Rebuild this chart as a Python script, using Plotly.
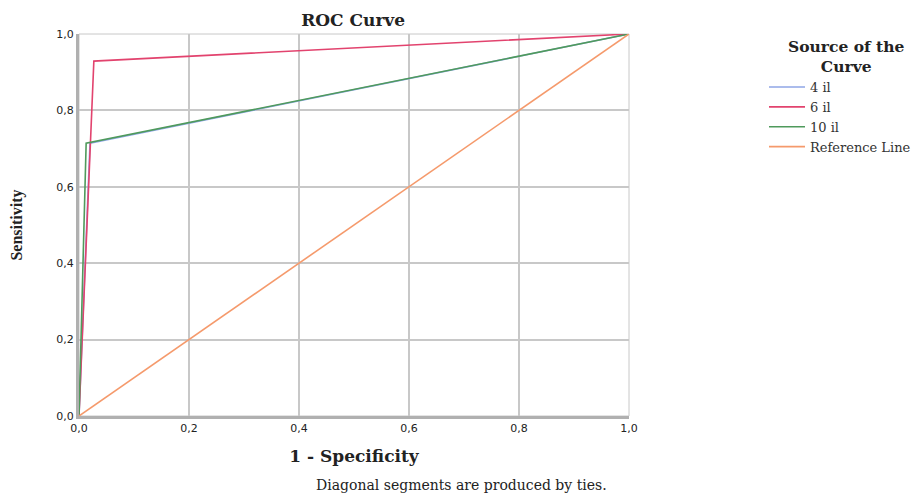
import plotly.graph_objects as go

series_names = ["4 il", "6 il", "10 il", "Reference Line"]
x_4il = [0.0, 0.02, 1.0]
y_4il = [0.0, 0.714, 1.0]
x_6il = [0.0, 0.027, 1.0]
y_6il = [0.0, 0.929, 1.0]
x_10il = [0.0, 0.013, 1.0]
y_10il = [0.0, 0.714, 1.0]
x_ref = [0.0, 1.0]
y_ref = [0.0, 1.0]
tick_vals = [0.0, 0.2, 0.4, 0.6, 0.8, 1.0]
tick_text = ["0,0", "0,2", "0,4", "0,6", "0,8", "1,0"]

colors = ["#8fa6e6", "#e2436e", "#4f9a5c", "#f59a6c"]

fig = go.Figure()
for xs, ys, name, c in zip([x_4il, x_6il, x_10il, x_ref], [y_4il, y_6il, y_10il, y_ref], series_names, colors):
    fig.add_trace(go.Scatter(x=xs, y=ys, mode="lines", name=name,
                             line=dict(color=c, width=1.6)))

serif = "DejaVu Serif, serif"
tserif = "Liberation Serif, Times New Roman, serif"
L, R, T, B = 79, 294, 34, 77
fig.update_layout(
    width=923, height=493,
    margin=dict(l=L, r=R, t=T, b=B, autoexpand=False),
    paper_bgcolor="white", plot_bgcolor="white",
    title=dict(text="<b>ROC Curve</b>", x=460/923, xref="paper", xanchor="center",
               y=1 - 20/493, yanchor="middle", font=dict(family=serif, size=17, color="#222")),
    legend=dict(x=(764-L)/550, xanchor="left", y=(416-72)/382, yanchor="top",
                font=dict(family=serif, size=13, color="#333"),
                itemwidth=36, tracegroupgap=0, bgcolor="rgba(0,0,0,0)"),
    showlegend=True,
)
fig.update_xaxes(range=[0, 1], tickvals=tick_vals, ticktext=tick_text, automargin=False,
                 showgrid=True, gridcolor="#c8c8c8", gridwidth=2,
                 showline=True, linecolor="#b0b0b0", linewidth=3, mirror=False,
                 zeroline=False, ticks="", tickfont=dict(family="DejaVu Sans", size=11, color="#222"),
                 title=dict(text="<b>1 - Specificity</b>", font=dict(family=serif, size=17, color="#222"), standoff=16))
fig.update_yaxes(range=[0, 1], tickvals=tick_vals, ticktext=tick_text, automargin=False,
                 showgrid=True, gridcolor="#c8c8c8", gridwidth=1.5,
                 showline=True, linecolor="#b0b0b0", linewidth=3, mirror=False,
                 zeroline=False, ticks="", tickfont=dict(family="DejaVu Sans", size=11, color="#222"),
                 title=dict(text="<b>Sensitivity</b>", font=dict(family=tserif, size=16, color="#222"), standoff=30))
fig.add_shape(type="rect", xref="paper", yref="paper", x0=0, y0=0, x1=1, y1=1,
              line=dict(color="#c8c8c8", width=1), layer="below")
fig.add_annotation(text="<b>Source of the<br>Curve</b>", xref="paper", yref="paper",
                   x=(846-L)/550, y=(416-56)/382, xanchor="center", yanchor="middle",
                   showarrow=False, align="center",
                   font=dict(family=serif, size=15.5, color="#222"))
fig.add_annotation(text="Diagonal segments are produced by ties.", xref="paper", yref="paper",
                   x=(461-L)/550, y=-(485-416)/382, xanchor="center", yanchor="middle",
                   showarrow=False, font=dict(family=serif, size=14, color="#222"))
fig.write_html("out.html", config={"displayModeBar": False},
               post_script="document.body.style.margin='0px';document.body.style.overflow='hidden';")
